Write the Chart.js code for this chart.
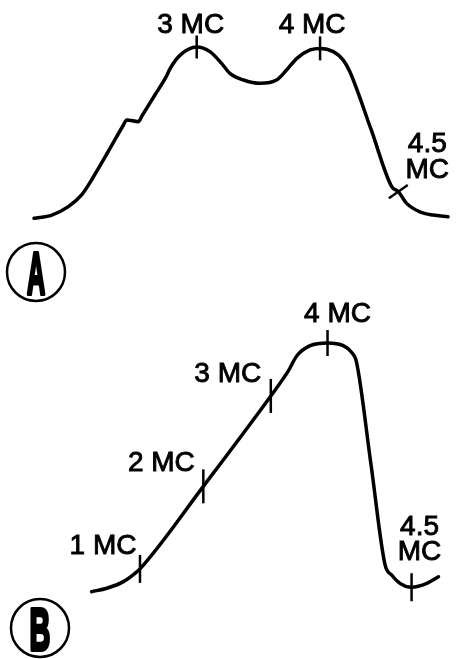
<!DOCTYPE html>
<html>
<head>
<meta charset="utf-8">
<script src="https://cdn.jsdelivr.net/npm/chart.js@4.4.0/dist/chart.umd.min.js"></script>
<style>
  html, body { margin: 0; padding: 0; background: #fff; }
  #wrap { position: relative; width: 456px; height: 659px; }
  canvas { position: absolute; left: 0; }
  #chartA { top: 0; }
  #chartB { top: 290px; }
</style>
</head>
<body>
<div id="wrap">
  <canvas id="chartA" width="456" height="310"></canvas>
  <canvas id="chartB" width="456" height="369"></canvas>
</div>
<script>
// panel A: relative position (0-100) and relative height (0-100)
const xA = [0, 4.3, 8.3, 11.5, 13.9, 17.9, 21.5, 22.4, 25.2, 26.1, 29.2, 31.9, 32.9, 35.3, 39.3, 42.5, 45.3, 47.3, 50.6, 54.6, 58.6, 61.0, 63.5, 66.7, 69.1, 72.3, 74.7, 76.3, 81.4, 86.4, 88.0, 90.0, 93.2, 96.4, 100];
const yA = [0.4, 2.3, 7.2, 14.0, 22.7, 39.1, 54.2, 57.6, 56.6, 60.0, 72.1, 82.6, 87.6, 95.3, 100, 97.3, 90.5, 84.7, 80.8, 78.9, 80.8, 86.6, 93.4, 98.3, 99.2, 97.3, 92.4, 85.6, 52.2, 18.8, 15.9, 9.1, 4.2, 2.3, 1.3];
const marksA = [14, 24, 30];
const labelsA = ['3 MC', '4 MC', ['4.5', 'MC']];

// panel B
const xB = [13.9, 17.6, 21.6, 24.4, 25.6, 40.9, 57.2, 61.4, 63.5, 66.7, 70.9, 74.7, 76.7, 77.9, 81.4, 84.8, 86.4, 88.4, 91.2, 94.9, 97.7];
const yB = [-1.5, -0.1, 2.6, 6.0, 7.8, 41.5, 78.4, 88.5, 94.8, 98.9, 100, 98.9, 96.2, 92.2, 50.4, 9.4, 5.3, 1.9, 0.3, 1.9, 4.6];
const marksB = [4, 5, 6, 10, 18];
const labelsB = ['1 MC', '2 MC', '3 MC', '4 MC', ['4.5', 'MC']];

const FONT = "28px 'Liberation Sans', Arial, sans-serif";

// tick angle (deg, 90 = vertical), half length, label dx, label bottom dy
const styleA = [
  { ang: 90, len: 11.5, dx: -6, dy: -14 },
  { ang: 90, len: 12, dx: -8, dy: -15 },
  { ang: -35, len: 11.5, dx: 29, dy: -14 }
];
const styleB = [
  { ang: 90, len: 14, dx: -37, dy: -15 },
  { ang: 90, len: 17, dx: -42, dy: -15 },
  { ang: 90, len: 17, dx: -43, dy: -14 },
  { ang: 90, len: 13, dx: 10, dy: -21 },
  { ang: 90, len: 14, dx: 8, dy: -27 }
];

const markPlugin = {
  id: 'marks',
  afterDatasetsDraw(chart, args, opts) {
    const ctx = chart.ctx;
    const pts = chart.getDatasetMeta(0).data;
    ctx.save();
    ctx.strokeStyle = '#000';
    ctx.fillStyle = '#000';
    ctx.font = FONT;
    ctx.textAlign = 'center';
    ctx.textBaseline = 'alphabetic';
    opts.marks.forEach((idx, i) => {
      const p = pts[idx];
      const s = opts.styles[i];
      const a = s.ang * Math.PI / 180;
      const cx = Math.cos(a) * s.len, cy = Math.sin(a) * s.len;
      ctx.lineWidth = 2.5;
      ctx.beginPath();
      ctx.moveTo(p.x - cx, p.y - cy);
      ctx.lineTo(p.x + cx, p.y + cy);
      ctx.stroke();
      const lines = [].concat(opts.labels[i]);
      ctx.lineWidth = 0.9;
      lines.forEach((t, k) => {
        const yy = p.y + s.dy - (lines.length - 1 - k) * 25.5;
        ctx.fillText(t, p.x + s.dx, yy);
        ctx.strokeText(t, p.x + s.dx, yy);
      });
    });
    // circled panel letter
    const c = opts.badge;
    ctx.lineWidth = 2.5;
    ctx.beginPath();
    ctx.arc(c.x, c.y, 29, 0, Math.PI * 2);
    ctx.stroke();
    ctx.translate(c.x, c.y + 22);
    ctx.scale(c.sx, 1);
    ctx.font = "bold 60px 'Liberation Sans', Arial, sans-serif";
    ctx.lineWidth = 4;
    ctx.lineJoin = 'round';
    ctx.fillText(c.text, 0, 0);
    ctx.strokeText(c.text, 0, 0);
    ctx.restore();
  }
};

function makeChart(id, xs, ys, pad, marks, labels, styles, badge) {
  return new Chart(document.getElementById(id), {
    type: 'line',
    data: {
      datasets: [{
        data: xs.map((x, i) => ({ x: x, y: ys[i] })),
        borderColor: '#000',
        borderWidth: 3.5,
        borderCapStyle: 'round',
        borderJoinStyle: 'round',
        pointRadius: 0,
        cubicInterpolationMode: 'monotone',
        fill: false,
        clip: false
      }]
    },
    options: {
      responsive: false,
      animation: false,
      layout: { padding: pad },
      scales: {
        x: { type: 'linear', min: 0, max: 100, display: false },
        y: { min: 0, max: 100, display: false }
      },
      plugins: {
        legend: { display: false },
        tooltip: { enabled: false },
        marks: { marks: marks, labels: labels, styles: styles, badge: badge }
      }
    },
    plugins: [markPlugin]
  });
}

makeChart('chartA', xA, yA, { left: 34, right: 8, top: 47, bottom: 91 },
  marksA, labelsA, styleA, { x: 36, y: 272, text: 'A', sx: 0.42 });
makeChart('chartB', xB, yB, { left: 34, right: 8, top: 53, bottom: 71 },
  marksB, labelsB, styleB, { x: 40, y: 338, text: 'B', sx: 0.48 });
</script>
</body>
</html>
